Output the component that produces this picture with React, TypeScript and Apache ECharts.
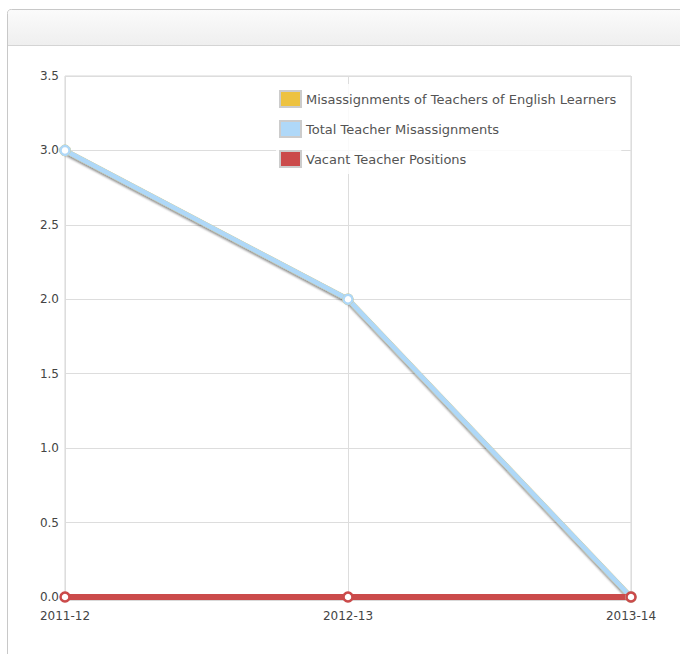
import React, { useEffect, useRef } from "react";
import * as echarts from "echarts";

const years = ["2011-12", "2012-13", "2013-14"];
const englishLearnerMisassignments = [3, 2, 0];
const totalMisassignments = [3, 2, 0];
const vacantPositions = [0, 0, 0];

const seriesNames = [
  "Misassignments of Teachers of English Learners",
  "Total Teacher Misassignments",
  "Vacant Teacher Positions",
];
const seriesColors = ["#edc240", "#afd8f8", "#cb4b4b"];

const FONT = "DejaVu Sans, Verdana, sans-serif";

export default function App() {
  const ref = useRef<HTMLDivElement>(null);

  useEffect(() => {
    if (!ref.current) return;
    const chart = echarts.init(ref.current, undefined, { renderer: "svg" });

    const lineSeries = (
      name: string,
      data: number[],
      color: string,
      width: number,
      shadow: boolean
    ) => ({
      name,
      type: "line",
      data,
      symbol: "circle",
      symbolSize: 9,
      itemStyle: { color: "#ffffff", borderColor: color, borderWidth: 2.5 },
      lineStyle: shadow
        ? {
            color,
            width,
            shadowColor: "rgba(0,0,0,0.25)",
            shadowBlur: 2,
            shadowOffsetY: 2,
          }
        : { color, width },
      emphasis: { disabled: true },
    });

    chart.setOption({
      animation: false,
      color: seriesColors,
      textStyle: { fontFamily: FONT },
      graphic: [
        {
          type: "rect",
          z: -10,
          silent: true,
          shape: { x: 7.5, y: 9.5, width: 720, height: 700, r: 4 },
          style: { fill: "#ffffff", stroke: "#c8c8c8", lineWidth: 1 },
        },
        {
          type: "rect",
          z: -9,
          silent: true,
          shape: { x: 8, y: 10, width: 700, height: 35, r: [4, 0, 0, 0] },
          style: {
            fill: new echarts.graphic.LinearGradient(0, 0, 0, 1, [
              { offset: 0, color: "#fbfbfb" },
              { offset: 1, color: "#efefef" },
            ]),
          },
        },
        {
          type: "line",
          z: -9,
          silent: true,
          shape: { x1: 8, y1: 45.5, x2: 700, y2: 45.5 },
          style: { stroke: "#d4d4d4", lineWidth: 1 },
        },
        // soft shadow under the flat vacancy line
        {
          type: "rect",
          z: 1,
          silent: true,
          shape: { x: 65, y: 597, width: 566, height: 4 },
          style: { fill: "rgba(0,0,0,0.15)" },
        },
      ],
      grid: {
        left: 65,
        top: 76,
        right: 49,
        bottom: 57,
        show: true,
        borderColor: "#d6d6d6",
        borderWidth: 1,
        backgroundColor: "transparent",
      },
      legend: {
        orient: "vertical",
        left: 276,
        top: 84,
        padding: [6, 5, 6, 3],
        backgroundColor: "rgba(255,255,255,0.85)",
        itemWidth: 21,
        itemHeight: 16,
        itemGap: 12,
        icon: "rect",
        selectedMode: false,
        data: seriesNames.map((name, i) => ({
          name,
          itemStyle: { color: seriesColors[i], borderColor: "#cccccc", borderWidth: 2 },
        })),
        textStyle: { color: "#545454", fontSize: 13, fontFamily: FONT },
      },
      xAxis: {
        type: "category",
        data: years,
        boundaryGap: false,
        axisLine: { show: false },
        axisTick: { show: false },
        axisLabel: { color: "#444444", fontSize: 12, margin: 13, fontFamily: FONT },
        splitLine: { show: true, lineStyle: { color: "#dddddd", width: 1 } },
      },
      yAxis: {
        type: "value",
        min: 0,
        max: 3.5,
        interval: 0.5,
        axisLine: { show: false },
        axisTick: { show: false },
        axisLabel: {
          color: "#444444",
          fontSize: 12,
          margin: 6,
          fontFamily: FONT,
          formatter: (v: number) => v.toFixed(1),
        },
        splitLine: { show: true, lineStyle: { color: "#dddddd", width: 1 } },
      },
      series: [
        lineSeries(seriesNames[0], englishLearnerMisassignments, seriesColors[0], 5, true),
        lineSeries(seriesNames[1], totalMisassignments, seriesColors[1], 5, true),
        lineSeries(seriesNames[2], vacantPositions, seriesColors[2], 6, false),
      ],
    });

    return () => chart.dispose();
  }, []);

  return (
    <div
      ref={ref}
      style={{ position: "absolute", left: 0, top: 0, width: 680, height: 654 }}
    />
  );
}
